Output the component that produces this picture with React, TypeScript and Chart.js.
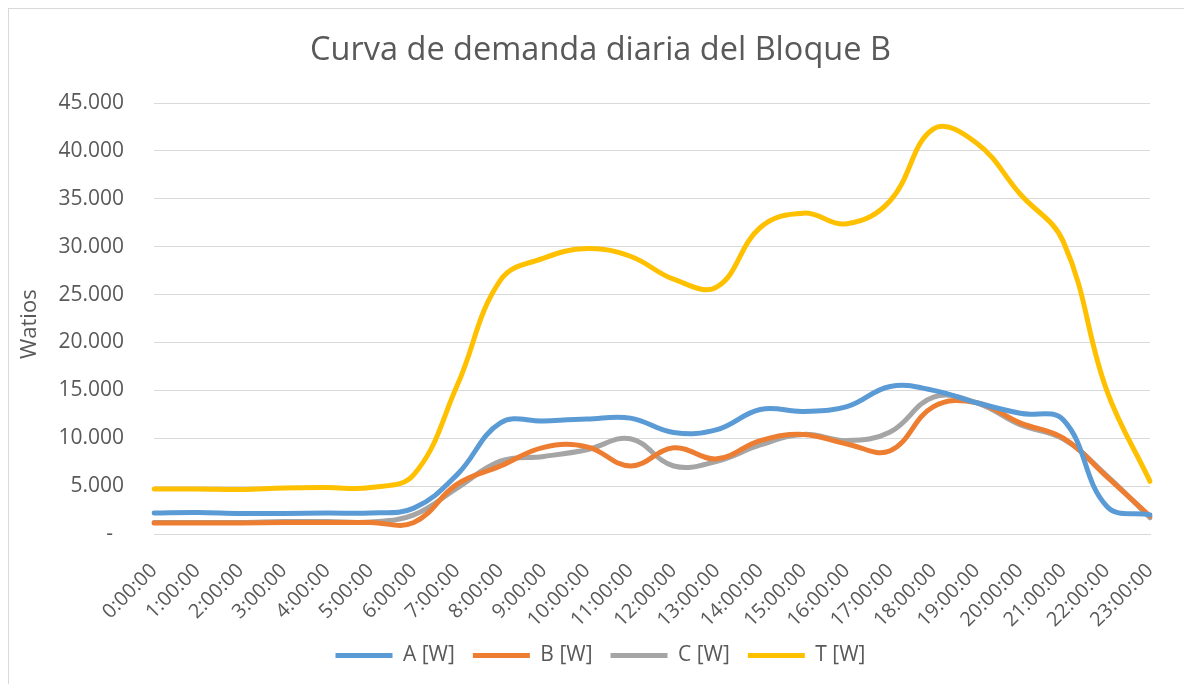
import React, { useEffect, useRef } from "react";
import { Chart, registerables } from "chart.js";

Chart.register(...registerables);

const hours = [
  "0:00:00", "1:00:00", "2:00:00", "3:00:00", "4:00:00", "5:00:00",
  "6:00:00", "7:00:00", "8:00:00", "9:00:00", "10:00:00", "11:00:00",
  "12:00:00", "13:00:00", "14:00:00", "15:00:00", "16:00:00", "17:00:00",
  "18:00:00", "19:00:00", "20:00:00", "21:00:00", "22:00:00", "23:00:00",
];

const seriesA = [2200, 2250, 2150, 2150, 2200, 2200, 2700, 6200, 11600, 11800, 12000, 12100, 10600, 10900, 13000, 12800, 13300, 15400, 15000, 13700, 12600, 11900, 2900, 2000];
const seriesB = [1150, 1150, 1150, 1200, 1200, 1200, 1200, 5200, 7100, 9050, 9100, 7100, 9000, 7850, 9750, 10400, 9400, 8700, 13300, 13700, 11600, 10000, 6000, 1850];
const seriesC = [1200, 1200, 1200, 1300, 1300, 1250, 2000, 4800, 7600, 8100, 8800, 9950, 7100, 7600, 9300, 10400, 9750, 10650, 14300, 13700, 11400, 9900, 6100, 1700];
const seriesT = [4700, 4700, 4650, 4800, 4850, 4850, 6200, 15500, 26500, 28800, 29800, 29000, 26600, 25800, 32000, 33500, 32400, 34800, 42300, 40800, 35500, 30500, 15000, 5500];

const seriesNames = ["A [W]", "B [W]", "C [W]", "T [W]"];
const seriesColors = ["#5B9BD5", "#ED7D31", "#A5A5A5", "#FFC000"];
const yTickLabels = ["-  ", "5.000", "10.000", "15.000", "20.000", "25.000", "30.000", "35.000", "40.000", "45.000"];

const FONT = "'Open Sans', sans-serif";
const TEXT = "#595959";

export default function App() {
  const ref = useRef<HTMLCanvasElement | null>(null);

  useEffect(() => {
    if (!ref.current) return;
    const values = [seriesA, seriesB, seriesC, seriesT];
    const chart = new Chart(ref.current, {
      type: "line",
      data: {
        labels: hours,
        datasets: values.map((d, i) => ({
          label: seriesNames[i],
          data: d,
          borderColor: seriesColors[i],
          backgroundColor: seriesColors[i],
          borderWidth: 5,
          pointRadius: 0,
          tension: 0.4,
          fill: false,
          borderCapStyle: "round" as const,
          borderJoinStyle: "round" as const,
          yAxisID: "y",
        })),
      },
      options: {
        responsive: false,
        animation: false,
        events: [],
        layout: { padding: { left: 0, right: 0, top: 0, bottom: 8 } },
        plugins: {
          tooltip: { enabled: false },
          title: {
            display: true,
            text: "Curva de demanda diaria del Bloque B",
            color: TEXT,
            font: { family: FONT, size: 32.5, weight: "normal" },
            padding: { top: 22, bottom: 33 },
          },
          legend: {
            position: "bottom",
            labels: {
              color: TEXT,
              font: { family: FONT, size: 21 },
              boxWidth: 57,
              boxHeight: 5,
              useBorderRadius: true,
              borderRadius: 2.5,
              padding: 18,
              generateLabels: (c: any) =>
                c.data.datasets.map((ds: any, i: number) => ({
                  text: ds.label,
                  fillStyle: ds.borderColor,
                  strokeStyle: ds.borderColor,
                  lineWidth: 0,
                  fontColor: TEXT,
                  datasetIndex: i,
                  hidden: false,
                })),
            },
          },
        },
        scales: {
          x: {
            offset: false,
            grid: { display: false, drawTicks: false },
            border: { display: true, color: "#D9D9D9", width: 1 },
            ticks: {
              autoSkip: false,
              maxRotation: 45,
              minRotation: 45,
              color: TEXT,
              font: { family: FONT, size: 20 },
              padding: 25,
            },
            afterFit: (s: any) => {
              s.height = 93;
            },
          },
          y: {
            min: 0,
            max: 45000,
            grid: { color: "#D9D9D9", lineWidth: 1, drawTicks: false },
            border: { display: false },
            ticks: {
              stepSize: 5000,
              color: TEXT,
              font: { family: FONT, size: 21 },
              padding: 30,
              callback: (_v: any, idx: number) => yTickLabels[idx],
            },
            title: {
              display: true,
              text: "Watios  ",
              color: TEXT,
              font: { family: FONT, size: 22 },
              padding: { top: 8, bottom: 0 },
            },
            afterFit: (s: any) => {
              s.width = 145;
            },
          },
          yRight: {
            position: "right",
            min: 0,
            max: 45000,
            grid: { display: false, drawTicks: false },
            border: { display: false },
            ticks: { display: false },
            afterFit: (s: any) => {
              s.width = 23;
            },
          },
        },
      },
    });
    return () => chart.destroy();
  }, []);

  return (
    <div
      style={{
        width: 1184,
        height: 676,
        borderLeft: "1px solid #D9D9D9",
        borderTop: "1px solid #D9D9D9",
        boxSizing: "border-box",
        background: "#fff",
      }}
    >
      <canvas ref={ref} width={1183} height={675} style={{ display: "block" }} />
    </div>
  );
}
